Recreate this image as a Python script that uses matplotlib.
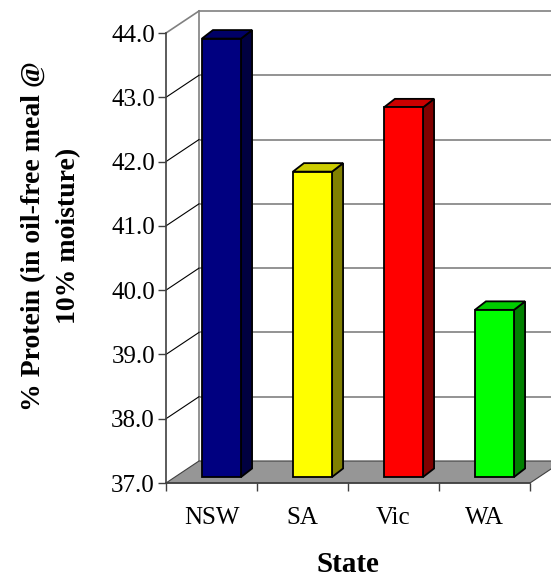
import matplotlib.pyplot as plt
from matplotlib.patches import Polygon
import numpy as np

plt.rcParams['font.family'] = ['Liberation Serif', 'DejaVu Serif']

states = ["NSW", "SA", "Vic", "WA"]
protein = [43.82, 41.75, 42.75, 39.60]
front_colors = ["#000080", "#ffff00", "#ff0000", "#00ff00"]
top_colors = ["#000066", "#cccc00", "#cc0000", "#00cc00"]
side_colors = ["#000040", "#808000", "#800000", "#008000"]
y_ticks = [37.0, 38.0, 39.0, 40.0, 41.0, 42.0, 43.0, 44.0]

W, H = 551, 580
fig = plt.figure(figsize=(W / 100, H / 100), dpi=100)
ax = fig.add_axes([166 / W, 1 - 483 / H, 364 / W, 450 / H])
ax.set_xlim(-0.5, 3.5)
ax.set_ylim(37, 44)
ax.patch.set_visible(False)

# pixel offsets for the fake 3D look
DEPTH = (33, 22)       # front plane -> back wall
BAR_FRONT = (10, 6)    # front plane -> bar front face
BAR_DEPTH = (11, 8.5)  # bar front face -> bar back face


def shift(pts, off):
    disp = ax.transData.transform(np.asarray(pts, dtype=float))
    disp = disp + np.asarray(off)
    return ax.transData.inverted().transform(disp)


def add_poly(pts, **kw):
    ax.add_patch(Polygon(pts, closed=True, clip_on=False, **kw))


x0, x1 = -0.5, 3.5
far_right = ax.transData.inverted().transform((W + 5, 0))[0]

# back wall: gridlines and left edge
for v in y_ticks[1:]:
    (bx, by), = shift([(x0, v)], DEPTH)
    ax.plot([bx, far_right], [by, by], color="#808080", lw=1.2,
            clip_on=False, zorder=1)
b_bot, b_top = shift([(x0, 37), (x0, 44)], DEPTH)
ax.plot([b_bot[0], b_top[0]], [b_bot[1], b_top[1]], color="#808080",
        lw=1.2, clip_on=False, zorder=1)

# side wall lines joining front ticks to the back wall
for v in y_ticks[1:]:
    (bx, by), = shift([(x0, v)], DEPTH)
    col = "#808080" if v == 44 else "black"
    ax.plot([x0, bx], [v, by], color=col, lw=0.8 if v < 44 else 1.2,
            clip_on=False, zorder=1)

# floor
front = [(x0, 37), (x1, 37)]
back = shift(front, DEPTH)
add_poly([front[0], front[1], back[1], back[0]], facecolor="#969696",
         edgecolor="#404040", lw=0.8, zorder=2)

# bars
half = 0.215
for i, (val, fc, tc, sc) in enumerate(zip(protein, front_colors,
                                          top_colors, side_colors)):
    face = shift([(i - half, 37), (i + half, 37), (i + half, val),
                  (i - half, val)], BAR_FRONT)
    rear = shift(face, BAR_DEPTH)
    add_poly([face[1], rear[1], rear[2], face[2]], facecolor=sc,
             edgecolor="black", lw=1.3, joinstyle="miter", zorder=3)
    add_poly([face[3], face[2], rear[2], rear[3]], facecolor=tc,
             edgecolor="black", lw=1.3, joinstyle="miter", zorder=3)
    add_poly(face, facecolor=fc, edgecolor="black", lw=1.3,
             joinstyle="miter", zorder=4)

# axes, ticks and labels
for side in ("top", "right"):
    ax.spines[side].set_visible(False)
for side in ("left", "bottom"):
    ax.spines[side].set_color("#404040")
    ax.spines[side].set_linewidth(1.2)
    ax.spines[side].set_zorder(5)

ax.set_yticks(y_ticks)
ax.set_yticklabels([f"{v:.1f}" for v in y_ticks])
ax.tick_params(axis="y", direction="out", length=6, width=1,
               color="#404040", pad=2, labelsize=18)

ax.set_xticks(range(len(states)))
ax.set_xticklabels(states)
ax.set_xticks(np.arange(-0.5, 4.0, 1.0), minor=True)
ax.tick_params(axis="x", which="major", length=0, pad=17, labelsize=18)
ax.tick_params(axis="x", which="minor", direction="out", length=6,
               width=1, color="#404040")

fig.text(51 / W, 1 - 236 / H, "% Protein (in oil-free meal @\n10% moisture)",
         rotation=90, ha="center", va="center", multialignment="center",
         fontsize=20, fontweight="bold", linespacing=1.5)
fig.text(348 / W, 1 - 565 / H, "State", ha="center", va="center",
         fontsize=21, fontweight="bold")

fig.savefig("out.png", dpi=100)
